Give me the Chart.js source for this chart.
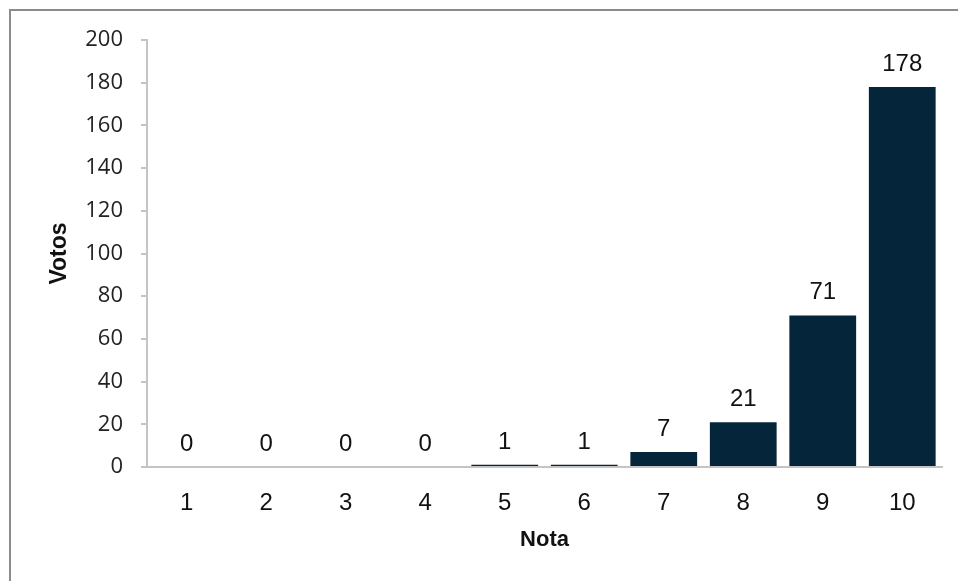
<!DOCTYPE html>
<html>
<head>
<meta charset="utf-8">
<script src="https://cdn.jsdelivr.net/npm/chart.js@4"></script>
<style>
    html, body { margin: 0; padding: 0; background: #fff; }
    #wrap { position: relative; width: 958px; height: 581px; }
    #frame {
        position: absolute; left: 9px; top: 9px; width: 960px; height: 600px;
        border-top: 2px solid #8c8c8c; border-left: 2px solid #8c8c8c;
        pointer-events: none;
    }
</style>
</head>
<body>
<div id="wrap">
    <canvas id="myChart" width="958" height="581"></canvas>
    <div id="frame"></div>
</div>
<script>
const notas = ['1', '2', '3', '4', '5', '6', '7', '8', '9', '10'];
const votos = [0, 0, 0, 0, 1, 1, 7, 21, 71, 178];
const yTicks = [0, 20, 40, 60, 80, 100, 120, 140, 160, 180, 200];

const barColor = '#05263a';
const axisColor = '#c4c4c4';

// etiquetas de valor encima de cada barra
const valueLabels = {
    id: 'valueLabels',
    afterDatasetsDraw(chart) {
        const ctx = chart.ctx;
        const meta = chart.getDatasetMeta(0);
        ctx.save();
        ctx.font = '24px "Liberation Sans", Arial, sans-serif';
        ctx.fillStyle = '#111';
        ctx.textAlign = 'center';
        ctx.textBaseline = 'alphabetic';
        meta.data.forEach(function (bar, i) {
            ctx.fillText(String(votos[i]), bar.x, bar.y - 16);
        });
        ctx.restore();
    }
};

const ctx = document.getElementById('myChart');

new Chart(ctx, {
    type: 'bar',
    data: {
        labels: notas,
        datasets: [{
            label: 'Votos',
            data: votos,
            backgroundColor: barColor,
            borderWidth: 0,
            categoryPercentage: 1,
            barPercentage: 0.84
        }]
    },
    options: {
        responsive: false,
        animation: false,
        layout: {
            padding: { left: 0, top: 40, right: 16, bottom: 0 }
        },
        plugins: {
            legend: { display: false },
            tooltip: { enabled: false }
        },
        scales: {
            x: {
                grid: { display: false },
                border: { display: true, color: axisColor, width: 2 },
                ticks: {
                    color: '#111',
                    padding: 14,
                    font: { family: '"Liberation Sans", Arial, sans-serif', size: 24 }
                },
                title: {
                    display: true,
                    text: 'Nota',
                    color: '#111',
                    padding: { top: 0, bottom: 28 },
                    font: { family: '"Liberation Sans", Arial, sans-serif', size: 22, weight: 'bold' }
                },
                afterFit: function (scale) { scale.height = 114; }
            },
            y: {
                min: 0,
                max: 200,
                afterBuildTicks: function (scale) {
                    scale.ticks = yTicks.map(function (v) { return { value: v }; });
                },
                grid: {
                    display: true,
                    drawOnChartArea: false,
                    drawTicks: true,
                    tickLength: 6,
                    color: axisColor,
                    lineWidth: 2
                },
                border: { display: true, color: axisColor, width: 2 },
                ticks: {
                    color: '#222',
                    padding: 18,
                    font: { family: '"Open Sans", sans-serif', size: 22 }
                },
                title: {
                    display: true,
                    text: 'Votos',
                    color: '#111',
                    padding: { top: 46, bottom: 0 },
                    font: { family: '"Liberation Sans", Arial, sans-serif', size: 23, weight: 'bold' }
                },
                afterFit: function (scale) { scale.width = 147; }
            }
        }
    },
    plugins: [valueLabels]
});
</script>
</body>
</html>
